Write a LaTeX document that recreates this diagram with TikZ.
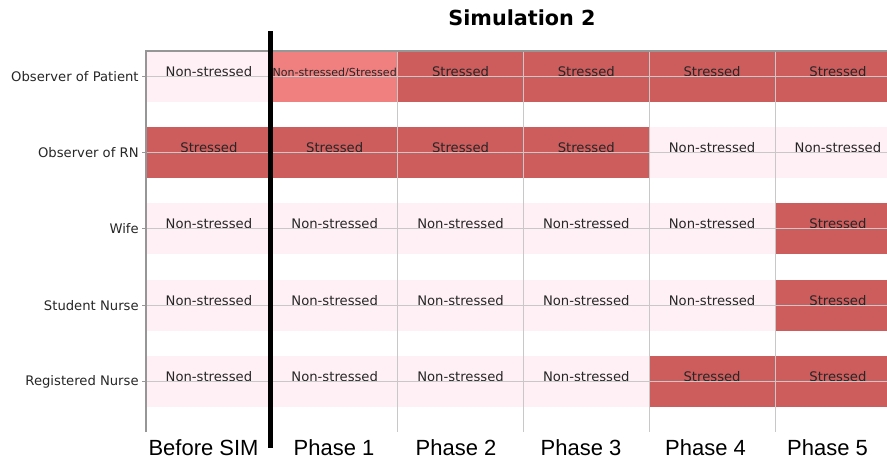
\documentclass[tikz,border=0pt]{standalone}
\usepackage{fontspec}
\setmainfont{DejaVu Sans}
\newfontfamily\phasefont{Liberation Sans}
\definecolor{nsfill}{RGB}{255,240,245}
\definecolor{stfill}{RGB}{205,92,92}
\definecolor{mxfill}{RGB}{240,128,128}
\definecolor{gridgray}{RGB}{200,200,200}
\definecolor{spinegray}{RGB}{150,150,150}
\usetikzlibrary{positioning}

\begin{document}
\begin{tikzpicture}[
  x=0.02cm,y=-0.02cm,
  cell/.style={minimum width=2.516cm,minimum height=1.02cm,inner sep=0pt,
    text height=5pt,text depth=5pt,text=black!85,font=\fontsize{7.5}{9}\selectfont},
  ns/.style={cell,fill=nsfill,node contents={Non-stressed}},
  st/.style={cell,fill=stfill,node contents={Stressed}},
  mx/.style={cell,fill=mxfill,font=\fontsize{6.3}{8}\selectfont,node contents={Non-stressed/Stressed}},
  rowlabel/.style={anchor=east,text=black!85,font=\fontsize{7.5}{9}\selectfont,inner sep=0pt},
  phase/.style={anchor=base,font=\phasefont\fontsize{12.5}{15}\selectfont,inner sep=0pt},
  gridline/.style={draw=gridgray,line width=0.5pt}
]
  \useasboundingbox (0,0) rectangle (887,460);
  \clip (0,0) rectangle (887,460);

  % Row 1: observer of patient
  \foreach \c/\s in {0/ns,1/mx,2/st,3/st,4/st,5/st}
    \node[name=op\c,at={(208.9+125.8*\c,76.3)},\s];
  % Row 2: observer of RN
  \foreach \c/\s in {0/st,1/st,2/st,3/st,4/ns,5/ns}
    \node[name=orn\c,at={(208.9+125.8*\c,152.6)},\s];
  % Row 3: wife
  \foreach \c/\s in {0/ns,1/ns,2/ns,3/ns,4/ns,5/st}
    \node[name=wife\c,at={(208.9+125.8*\c,228.9)},\s];
  % Row 4: student nurse
  \foreach \c/\s in {0/ns,1/ns,2/ns,3/ns,4/ns,5/st}
    \node[name=sn\c,at={(208.9+125.8*\c,305.2)},\s];
  % Row 5: registered nurse
  \foreach \c/\s in {0/ns,1/ns,2/ns,3/ns,4/st,5/st}
    \node[name=rn\c,at={(208.9+125.8*\c,381.5)},\s];

  % grid and spines
  \foreach \x in {271.8,397.6,523.4,649.2,775}
    \draw[gridline] (\x,51) -- (\x,432);
  \foreach \y in {76.3,152.6,228.9,305.2,381.5} {
    \draw[gridline] (146,\y) -- (901,\y);
    \draw[spinegray,line width=0.5pt] (142,\y) -- (146,\y);
  }
  \draw[spinegray,line width=0.6pt] (146,432) -- (146,51) -- (901,51);

  % row labels
  \node[rowlabel] (lop) at (139,76.3) {Observer of Patient};
  \node[rowlabel] (lorn) at (139,152.6) {Observer of RN};
  \node[rowlabel] (lwife) at (139,228.9) {Wife};
  \node[rowlabel] (lsn) at (139,305.2) {Student Nurse};
  \node[rowlabel] (lrn) at (139,381.5) {Registered Nurse};

  % start of the simulation
  \draw[line width=2.8pt] (270.7,31) -- (270.7,448);

  % title and phase labels
  \node[font=\bfseries\fontsize{11.8}{14}\selectfont] (title) at (522,18) {Simulation 2};
  \node[phase] (ph0) at (203.5,455) {Before SIM};
  \node[phase] (ph1) at (334,455) {Phase 1};
  \node[phase] (ph2) at (456,455) {Phase 2};
  \node[phase] (ph3) at (581,455) {Phase 3};
  \node[phase] (ph4) at (705.5,455) {Phase 4};
  \node[phase] (ph5) at (827.5,455) {Phase 5};
\end{tikzpicture}
\end{document}
